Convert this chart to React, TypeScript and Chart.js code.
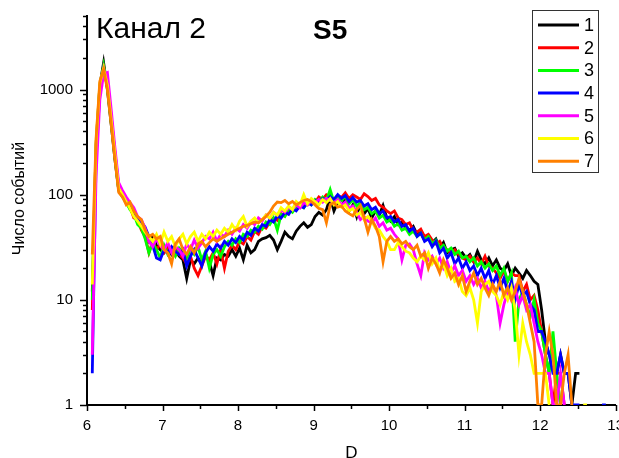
import React, { useEffect, useRef } from "react";
import { Chart, registerables } from "chart.js";

Chart.register(...registerables);

// D grid (x values)
const D = [
  6.07, 6.12, 6.17, 6.22, 6.27, 6.32, 6.37, 6.42, 6.47, 6.52,
  6.57, 6.62, 6.67, 6.72, 6.77, 6.82, 6.87, 6.92, 6.97, 7.02,
  7.07, 7.12, 7.17, 7.22, 7.27, 7.32, 7.37, 7.42, 7.47, 7.52,
  7.57, 7.62, 7.67, 7.72, 7.77, 7.82, 7.87, 7.92, 7.97, 8.02,
  8.07, 8.12, 8.17, 8.22, 8.27, 8.32, 8.37, 8.42, 8.47, 8.52,
  8.57, 8.62, 8.67, 8.72, 8.77, 8.82, 8.87, 8.92, 8.97, 9.02,
  9.07, 9.12, 9.17, 9.22, 9.27, 9.32, 9.37, 9.42, 9.47, 9.52,
  9.57, 9.62, 9.67, 9.72, 9.77, 9.82, 9.87, 9.92, 9.97, 10.02,
  10.07, 10.12, 10.17, 10.22, 10.27, 10.32, 10.37, 10.42, 10.47, 10.52,
  10.57, 10.62, 10.67, 10.72, 10.77, 10.82, 10.87, 10.92, 10.97, 11.02,
  11.07, 11.12, 11.17, 11.22, 11.27, 11.32, 11.37, 11.42, 11.47, 11.52,
  11.57, 11.62, 11.67, 11.72, 11.77, 11.82, 11.87, 11.92, 11.97, 12.02,
  12.07, 12.12, 12.17, 12.22, 12.27, 12.32, 12.37, 12.42, 12.47, 12.52,
  12.57, 12.62, 12.67, 12.72, 12.77, 12.82, 12.87, 12.92,
];

const S1 = [
  12, 300, 1100, 1800, 1000, 470, 215, 110, 100, 85,
  74, 64, 55, 52, 44, 36, 40, 33, 30, 28,
  31, 27, 30, 26, 24, 16, 24, 22, 25, 22,
  27, 23, 17, 25, 24, 27, 26, 30, 26, 31,
  24, 33, 28, 30, 36, 38, 39, 41, 37, 30,
  36, 44, 40, 38, 45, 50, 54, 49, 52, 62,
  68, 64, 72, 95, 70, 85, 78, 90, 70, 80,
  62, 85, 66, 74, 60, 70, 64, 79, 60, 56,
  62, 52, 55, 48, 46, 50, 42, 44, 37, 40,
  35, 38, 31, 35, 28, 30, 31, 26, 28, 25,
  27, 23, 29, 24, 22, 25, 21, 24, 20, 19,
  22, 17, 20, 18, 16, 19, 17, 15, 14, 8,
  4, 3, 3, 2, 3, 2, 2, 1, 2, 2,
];

const S2 = [
  8, 250, 1000, 1650, 1100, 500, 230, 115, 98, 86,
  76, 60, 58, 46, 40, 28, 36, 30, 34, 28,
  31, 29, 33, 27, 25, 22, 26, 20, 17, 21,
  26, 24, 28, 22, 30, 20, 29, 33, 30, 36,
  34, 40, 37, 45, 42, 50, 48, 55, 60, 57,
  66, 63, 72, 70, 78, 75, 82, 80, 88, 84,
  95, 90, 100, 96, 88, 98, 94, 104, 92, 100,
  95, 90, 102, 96, 88, 92, 80, 76, 70, 66,
  70, 60, 58, 52, 54, 46, 44, 47, 40, 42,
  37, 34, 36, 31, 30, 28, 30, 27, 25, 24,
  26, 23, 25, 22, 26, 21, 20, 18, 16, 19,
  15, 18, 17, 17, 12, 14, 10, 11, 8, 5,
  3, 2, 1, 2, 2, 1,
];

const S3 = [
  10, 270, 1050, 1680, 1050, 490, 225, 110, 95, 84,
  72, 65, 52, 48, 38, 28, 35, 30, 25, 33,
  27, 30, 26, 31, 28, 25, 30, 27, 32, 24,
  29, 20, 27, 30, 26, 32, 36, 33, 38, 35,
  42, 40, 46, 44, 50, 47, 55, 52, 60, 46,
  65, 62, 72, 68, 76, 80, 75, 84, 80, 90,
  85, 95, 88, 112, 85, 92, 88, 96, 82, 90,
  78, 84, 72, 76, 66, 70, 60, 64, 55, 58,
  50, 53, 46, 48, 42, 45, 40, 43, 37, 40,
  34, 37, 31, 33, 29, 31, 27, 29, 25, 26,
  23, 25, 21, 23, 20, 22, 19, 21, 17, 20,
  15, 18, 4, 10, 12, 9, 7, 10, 6, 5,
  3, 2, 5, 2, 1,
];

const S4 = [
  2, 220, 950, 1600, 1200, 560, 250, 120, 100, 90,
  80, 66, 60, 55, 49, 40, 33, 25, 24, 30,
  28, 32, 29, 27, 30, 21, 26, 30, 25, 21,
  28, 32, 29, 34, 31, 36, 33, 38, 35, 40,
  37, 44, 41, 48, 45, 52, 50, 58, 55, 63,
  60, 68, 65, 74, 70, 78, 75, 85, 80, 88,
  84, 92, 88, 96, 90, 100, 92, 98, 86, 94,
  85, 88, 78, 82, 72, 76, 66, 70, 60, 62,
  55, 58, 50, 52, 45, 48, 40, 43, 36, 38,
  32, 36, 28, 31, 25, 28, 22, 25, 20, 23,
  19, 21, 17, 20, 16, 19, 14, 17, 13, 16,
  12, 15, 10, 14, 11, 12, 9, 8, 5, 5,
  4, 3, 2, 2, 3, 2, 2, 1, 1, 1,
  null, null, null, null, null, 1, 1, null,
];

const S5 = [
  3, 150, 800, 1400, 1450, 650, 280, 130, 110, 95,
  84, 75, 62, 58, 48, 36, 32, 38, 33, 30,
  35, 28, 32, 30, 26, 34, 30, 37, 31, 35,
  40, 38, 44, 36, 42, 40, 46, 42, 48, 45,
  52, 48, 55, 52, 60, 56, 64, 60, 68, 64,
  72, 68, 76, 72, 80, 75, 84, 80, 88, 84,
  90, 85, 92, 88, 84, 90, 80, 85, 74, 78,
  68, 58, 62, 56, 54, 60, 50, 54, 46, 48,
  42, 38, 24, 33, 34, 30, 22, 17, 28, 24,
  26, 22, 25, 20, 23, 18, 21, 17, 19, 15,
  17, 14, 16, 13, 15, 12, 14, 11, 6, 9,
  12, 10, 13, 9, 11, 8, 9, 6, 4, 3,
  2, 2, 1, 1, 2, 1,
];

const S6 = [
  14, 320, 1150, 1600, 1100, 520, 240, 115, 100, 86,
  74, 62, 56, 50, 44, 40, 36, 42, 34, 44,
  36, 40, 32, 38, 42, 34, 40, 44, 36, 42,
  38, 44, 40, 46, 42, 48, 44, 52, 46, 56,
  62, 50, 56, 60, 54, 58, 64, 60, 68, 64,
  75, 70, 78, 72, 86, 80, 100, 82, 92, 86,
  80, 90, 84, 92, 80, 86, 76, 80, 70, 74,
  64, 68, 58, 62, 56, 48, 46, 40, 36, 30,
  30, 35, 32, 29, 28, 25, 23, 26, 24, 28,
  22, 25, 19, 22, 17, 20, 15, 16, 12, 11,
  13, 10, 6, 12, 14, 15, 12, 11, 9, 12,
  10, 13, 8, 3, 6, 4, 3, 2, 2, 2,
  2, 1, null, null, null, null, null, null, null, null,
  1, 1,
];

const S7 = [
  27, 340, 1200, 1550, 1000, 470, 215, 105, 95, 80,
  85, 70, 62, 58, 46, 40, 42, 38, 40, 30,
  28, 22, 34, 38, 30, 27, 32, 28, 34, 36,
  32, 35, 38, 36, 38, 40, 42, 44, 46, 48,
  50, 51, 53, 55, 54, 58, 62, 68, 78, 85,
  84, 88, 82, 86, 80, 84, 88, 90, 86, 80,
  74, 72, 54, 80, 84, 76, 78, 70, 66, 63,
  72, 79, 60, 44, 58, 50, 40, 23, 36, 40,
  36, 38, 34, 36, 32, 30, 33, 26, 28, 20,
  25, 22, 18, 24, 20, 16, 18, 14, 17, 12,
  15, 18, 14, 16, 13, 11, 14, 12, 15, 11,
  13, 10, 12, 16, 12, 9, 6, 4, 1, 1,
  3, 5, 3, 1, 1, 2, 3, 1,
];

const SERIES_NAMES = ["1", "2", "3", "4", "5", "6", "7"];
const SERIES_COLORS = ["#000000", "#ff0000", "#00ff00", "#0000ff", "#ff00ff", "#ffff00", "#ff8000"];
const X_TICKS = [6, 7, 8, 9, 10, 11, 12, 13];
const Y_TICKS = [1, 10, 100, 1000];
const CHANNEL_LABEL = "Канал 2";
const SAMPLE_LABEL = "S5";
const X_TITLE = "D";
const Y_TITLE = "Число событий";

const FONT = "'Liberation Sans', Arial, Helvetica, sans-serif";

export default function App() {
  const ref = useRef<HTMLCanvasElement>(null);

  useEffect(() => {
    document.body.style.margin = "0";
    const canvas = ref.current;
    if (!canvas) return;
    const ctx = canvas.getContext("2d");
    if (!ctx) return;

    const series = [S1, S2, S3, S4, S5, S6, S7];

    const overlay = {
      id: "overlay",
      afterDraw(chart: any) {
        const c = chart.ctx as CanvasRenderingContext2D;
        const xs = chart.scales.x;
        const ys = chart.scales.y;
        const area = chart.chartArea;
        c.save();
        c.strokeStyle = "#000";
        c.lineWidth = 1.5;
        // x ticks
        X_TICKS.forEach((v, i) => {
          const px = Math.round(xs.getPixelForValue(v)) + 0.5;
          c.beginPath();
          c.moveTo(px, area.bottom);
          c.lineTo(px, area.bottom + 6);
          c.stroke();
          if (i < X_TICKS.length - 1) {
            const pm = Math.round(xs.getPixelForValue(v + 0.5)) + 0.5;
            c.beginPath();
            c.moveTo(pm, area.bottom);
            c.lineTo(pm, area.bottom + 4);
            c.stroke();
          }
        });
        // y ticks
        Y_TICKS.forEach((d) => {
          const py = Math.round(ys.getPixelForValue(d)) + 0.5;
          c.beginPath();
          c.moveTo(area.left, py);
          c.lineTo(area.left - 7, py);
          c.stroke();
          for (let m = 2; m <= 9; m++) {
            const v = d * m;
            if (v > ys.max) break;
            const pm = Math.round(ys.getPixelForValue(v)) + 0.5;
            c.beginPath();
            c.moveTo(area.left, pm);
            c.lineTo(area.left - 4, pm);
            c.stroke();
          }
        });

        c.fillStyle = "#000";
        // axis titles
        c.font = `17px ${FONT}`;
        c.textAlign = "center";
        c.textBaseline = "alphabetic";
        c.fillText(X_TITLE, (area.left + area.right) / 2, 457.5);

        c.save();
        c.translate(20, (area.top + area.bottom) / 2 - 12);
        c.rotate(-Math.PI / 2);
        c.font = `16px ${FONT}`;
        c.textAlign = "center";
        c.textBaseline = "middle";
        c.fillText(Y_TITLE, 0, 0);
        c.restore();

        // annotations
        c.textAlign = "left";
        c.textBaseline = "alphabetic";
        c.font = `30px ${FONT}`;
        c.fillText(CHANNEL_LABEL, 96, 38);
        c.font = `bold 28px ${FONT}`;
        c.fillText(SAMPLE_LABEL, 313, 39);

        // legend
        c.fillStyle = "#fff";
        c.fillRect(532.5, 10.5, 66, 162);
        c.strokeStyle = "#333";
        c.lineWidth = 1;
        c.strokeRect(532.5, 10.5, 66, 162);
        c.font = `18px ${FONT}`;
        c.textBaseline = "middle";
        SERIES_NAMES.forEach((name, i) => {
          const y = 25 + i * 22.7;
          c.strokeStyle = SERIES_COLORS[i];
          c.lineWidth = 3;
          c.beginPath();
          c.moveTo(538, y);
          c.lineTo(579, y);
          c.stroke();
          c.fillStyle = "#000";
          c.fillText(name, 584, y + 1);
        });
        c.restore();
      },
    };

    const chart = new Chart(ctx, {
      type: "line",
      data: {
        datasets: series.map((s, i) => ({
          label: SERIES_NAMES[i],
          data: D.map((x, j) => ({ x, y: s[j] === undefined ? null : s[j] })),
          borderColor: SERIES_COLORS[i],
          backgroundColor: SERIES_COLORS[i],
          borderWidth: 2.8,
          pointRadius: 0,
          fill: false,
          tension: 0,
          spanGaps: false,
          order: 6 - i,
        })),
      },
      options: {
        animation: false,
        responsive: false,
        devicePixelRatio: 1,
        layout: { padding: { top: 12, left: 0, right: 0, bottom: 0 } },
        plugins: {
          legend: { display: false },
          tooltip: { enabled: false },
          title: { display: false },
        },
        scales: {
          x: {
            type: "linear",
            min: 6,
            max: 13,
            grid: { display: false, drawTicks: true, tickLength: 6 },
            border: { display: true, color: "#000", width: 2 },
            ticks: {
              stepSize: 1,
              autoSkip: false,
              maxRotation: 0,
              color: "#000",
              padding: 6,
              font: { family: FONT, size: 15 },
              callback: (v: any) => (X_TICKS.includes(Number(v)) ? String(v) : ""),
            },
            afterFit: (s: any) => {
              s.height = 53;
            },
          },
          y: {
            type: "logarithmic",
            min: 1,
            max: 5000,
            grid: { display: false, drawTicks: true, tickLength: 7 },
            border: { display: true, color: "#000", width: 2 },
            ticks: {
              autoSkip: false,
              color: "#000",
              padding: 7,
              font: { family: FONT, size: 15 },
              callback: (v: any) => (Y_TICKS.includes(Number(v)) ? String(v) : ""),
            },
            afterFit: (s: any) => {
              s.width = 87;
            },
          },
        },
      } as any,
      plugins: [overlay],
    });

    return () => chart.destroy();
  }, []);

  return (
    <div style={{ position: "relative", width: 619, height: 458, overflow: "hidden" }}>
      <canvas ref={ref} width={630} height={458} style={{ display: "block", width: 630, height: 458 }} />
    </div>
  );
}
